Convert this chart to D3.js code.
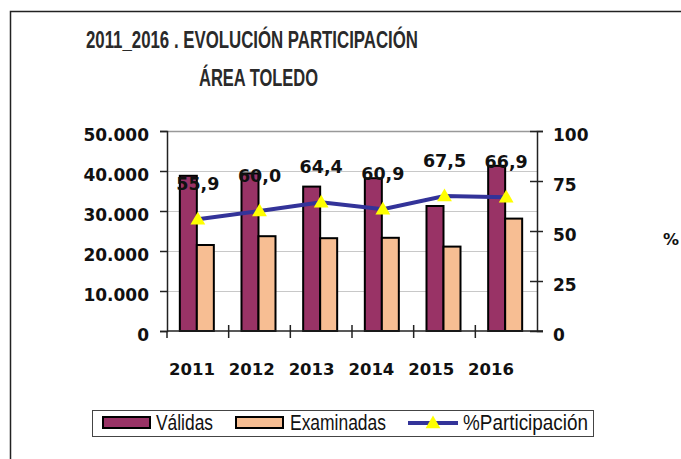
<!DOCTYPE html>
<html>
<head>
<meta charset="utf-8">
<script src="https://cdn.jsdelivr.net/npm/d3@7"></script>
<style>
  body { margin: 0; background: #fff; }
  svg { display: block; }
</style>
</head>
<body>
<svg id="chart" width="681" height="459"></svg>
<script>
// data
const years = ['2011', '2012', '2013', '2014', '2015', '2016'];
const validas = [38800, 39400, 36100, 38200, 31250, 41300];
const examinadas = [21500, 23700, 23200, 23300, 21100, 28100];
const participacion = [55.9, 60.0, 64.4, 60.9, 67.5, 66.9];
const leftTicks = [0, 10000, 20000, 30000, 40000, 50000];
const rightTicks = [0, 25, 50, 75, 100];

const svg = d3.select('#chart');
const numFont = '"DejaVu Sans", sans-serif';
const narrowFont = '"Liberation Sans Narrow", "Liberation Sans", Arial, sans-serif';

const plot = { left: 167, right: 537, top: 131, bottom: 331 };

// outer frame (left and top edges only visible)
svg.append('rect')
  .attr('x', 10.5).attr('y', 11.5)
  .attr('width', 700).attr('height', 500)
  .attr('fill', 'none').attr('stroke', '#222').attr('stroke-width', 1.5);

// title
const title = svg.append('g')
  .attr('font-family', narrowFont)
  .attr('font-weight', 'bold')
  .attr('fill', '#2a2a2a')
  .attr('font-size', 23);
title.append('text').attr('x', 86).attr('y', 48)
  .attr('textLength', 332).attr('lengthAdjust', 'spacingAndGlyphs')
  .text('2011_2016 . EVOLUCIÓN PARTICIPACIÓN');
title.append('text').attr('x', 199).attr('y', 86)
  .attr('textLength', 119).attr('lengthAdjust', 'spacingAndGlyphs')
  .text('ÁREA TOLEDO');

// scales
let x0 = d3.scaleBand().domain(years).range([plot.left, plot.right]).padding(0);
let x1 = d3.scaleBand().domain(['validas', 'examinadas']).range([-18, 16]).padding(0);
let yL = d3.scaleLinear().domain([0, 50000]).range([plot.bottom, plot.top]);
let yR = d3.scaleLinear().domain([0, 100]).range([plot.bottom, plot.top]);
let xLab = d3.scalePoint().domain(years).range([192, 491]);

const center = d => x0(d) + x0.bandwidth() / 2;

// gridlines
svg.append('g').selectAll('line')
  .data(leftTicks.filter(t => t > 0))
  .join('line')
  .attr('x1', plot.left).attr('x2', plot.right)
  .attr('y1', d => yL(d) + 0.5).attr('y2', d => yL(d) + 0.5)
  .attr('stroke', d => d === 50000 ? '#999' : '#c8c8c8')
  .attr('stroke-width', d => d === 50000 ? 1.5 : 1.2);

// bars
const bars = svg.append('g');
years.forEach((yr, i) => {
  bars.append('rect')
    .attr('x', center(yr) + x1('validas'))
    .attr('y', yL(validas[i]))
    .attr('width', x1.bandwidth())
    .attr('height', yL(0) - yL(validas[i]))
    .attr('fill', '#993366')
    .attr('stroke', '#000').attr('stroke-width', 2);
  bars.append('rect')
    .attr('x', center(yr) + x1('examinadas'))
    .attr('y', yL(examinadas[i]))
    .attr('width', x1.bandwidth())
    .attr('height', yL(0) - yL(examinadas[i]))
    .attr('fill', '#f7be93')
    .attr('stroke', '#000').attr('stroke-width', 2);
});

// left axis
const axL = svg.append('g').attr('transform', `translate(${plot.left},0)`)
  .call(d3.axisLeft(yL).tickValues(leftTicks).tickSize(7).tickFormat(() => ''));
axL.select('.domain').attr('stroke', '#222').attr('stroke-width', 1.5);
axL.selectAll('.tick line').attr('stroke', '#222').attr('stroke-width', 1.5);
svg.append('g').selectAll('text')
  .data(leftTicks)
  .join('text')
  .attr('x', 149).attr('y', d => yL(d) + 10)
  .attr('text-anchor', 'end')
  .attr('font-family', numFont).attr('font-weight', 'bold').attr('font-size', 17)
  .attr('fill', '#111')
  .text(d => d === 0 ? '0' : d3.format(',')(d).replace(/,/g, '.'));

// right axis (ticks cross the line)
const axR = svg.append('g').attr('transform', `translate(${plot.right},0)`)
  .call(d3.axisRight(yR).tickValues(rightTicks).tickSize(6).tickFormat(() => ''));
axR.select('.domain').attr('stroke', '#222').attr('stroke-width', 1.5);
axR.selectAll('.tick line').attr('x1', -7).attr('stroke', '#222').attr('stroke-width', 1.5);
svg.append('g').selectAll('text')
  .data(rightTicks)
  .join('text')
  .attr('x', 553).attr('y', d => yR(d) + 10)
  .attr('font-family', numFont).attr('font-weight', 'bold').attr('font-size', 17)
  .attr('fill', '#111')
  .text(d => d);
svg.append('text')
  .attr('x', 663).attr('y', 245)
  .attr('font-family', numFont).attr('font-weight', 'bold').attr('font-size', 16)
  .attr('fill', '#111')
  .text('%');

// bottom axis
svg.append('line')
  .attr('x1', plot.left).attr('x2', plot.right + 6)
  .attr('y1', plot.bottom).attr('y2', plot.bottom)
  .attr('stroke', '#222').attr('stroke-width', 1.5);
svg.append('g').selectAll('line')
  .data(years.slice(1))
  .join('line')
  .attr('x1', d => x0(d)).attr('x2', d => x0(d))
  .attr('y1', plot.bottom - 6).attr('y2', plot.bottom + 7)
  .attr('stroke', '#222').attr('stroke-width', 1.5);
svg.append('line')
  .attr('x1', plot.left).attr('x2', plot.left)
  .attr('y1', plot.bottom).attr('y2', plot.bottom + 7)
  .attr('stroke', '#222').attr('stroke-width', 1.5);
svg.append('g').selectAll('text')
  .data(years)
  .join('text')
  .attr('x', d => xLab(d)).attr('y', 375)
  .attr('text-anchor', 'middle')
  .attr('font-family', numFont).attr('font-weight', 'bold').attr('font-size', 16.5)
  .attr('fill', '#111')
  .text(d => d);

// participation line
const line = d3.line()
  .x((d, i) => center(years[i]))
  .y(d => yR(d));
svg.append('path')
  .datum(participacion)
  .attr('d', line)
  .attr('fill', 'none')
  .attr('stroke', '#333399')
  .attr('stroke-width', 4);

const tri = d3.symbol().type(d3.symbolTriangle).size(95);
svg.append('g').selectAll('path')
  .data(participacion)
  .join('path')
  .attr('d', tri)
  .attr('transform', (d, i) => `translate(${center(years[i])},${yR(d) + 1})`)
  .attr('fill', '#ffff00');

svg.append('g').selectAll('text')
  .data(participacion)
  .join('text')
  .attr('x', (d, i) => center(years[i]))
  .attr('y', d => yR(d) - 29)
  .attr('text-anchor', 'middle')
  .attr('font-family', numFont).attr('font-weight', 'bold').attr('font-size', 17.5)
  .attr('fill', '#111')
  .text(d => d.toFixed(1).replace('.', ','));

// legend
const lg = svg.append('g');
lg.append('rect')
  .attr('x', 92.5).attr('y', 410.5).attr('width', 501).attr('height', 26)
  .attr('fill', '#fff').attr('stroke', '#444').attr('stroke-width', 1);
const legendItems = [
  { label: 'Válidas', fill: '#993366', sx: 103, tx: 156, tw: 57 },
  { label: 'Examinadas', fill: '#f7be93', sx: 236, tx: 290, tw: 96 }
];
legendItems.forEach(it => {
  lg.append('rect')
    .attr('x', it.sx).attr('y', 417).attr('width', 47).attr('height', 11)
    .attr('fill', it.fill).attr('stroke', '#000').attr('stroke-width', 2);
  lg.append('text')
    .attr('x', it.tx).attr('y', 430)
    .attr('font-family', narrowFont).attr('font-size', 21.5).attr('fill', '#111')
    .attr('textLength', it.tw).attr('lengthAdjust', 'spacingAndGlyphs')
    .text(it.label);
});
lg.append('line')
  .attr('x1', 408).attr('x2', 458).attr('y1', 423).attr('y2', 423)
  .attr('stroke', '#333399').attr('stroke-width', 4);
lg.append('path')
  .attr('d', tri)
  .attr('transform', 'translate(433,424)')
  .attr('fill', '#ffff00');
lg.append('text')
  .attr('x', 463).attr('y', 430)
  .attr('font-family', narrowFont).attr('font-size', 21.5).attr('fill', '#111')
  .attr('textLength', 125).attr('lengthAdjust', 'spacingAndGlyphs')
  .text('%Participación');
</script>
</body>
</html>
